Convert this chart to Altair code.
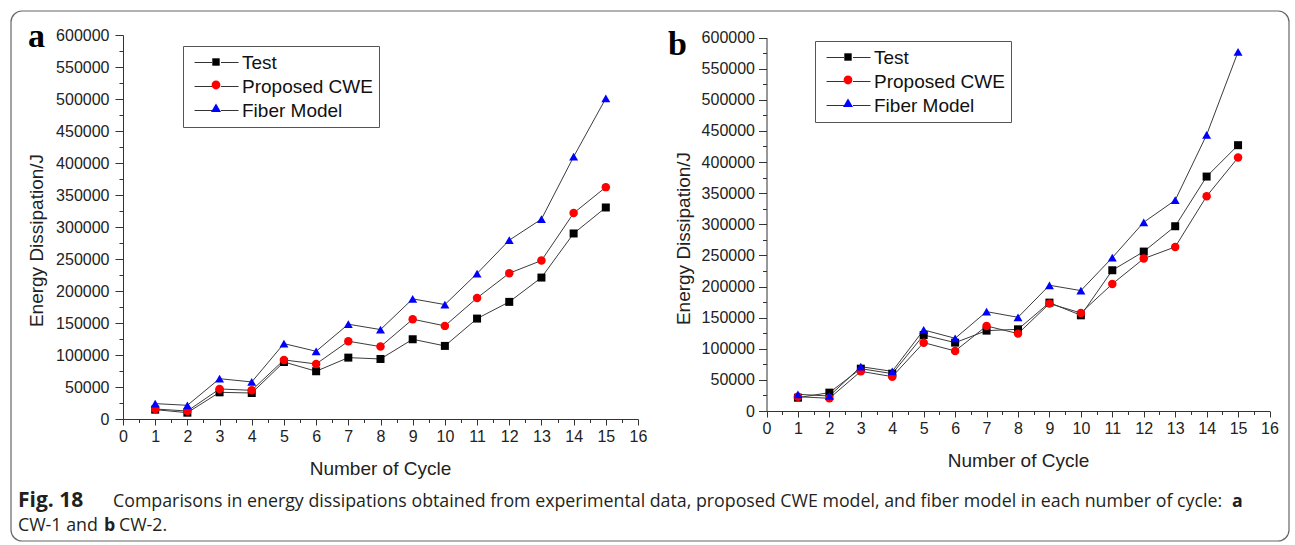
import altair as alt
import pandas as pd

SERIES = ["Test", "Proposed CWE", "Fiber Model"]
COLORS = ["#000000", "#ff0000", "#0000ff"]
CYCLES = list(range(1, 16))

A_TEST = [14600, 9900, 41700, 40600, 89100, 74600, 95900, 93800, 124600, 114200, 156900, 183000, 221000, 289900, 330500]
A_CWE = [15600, 12500, 46900, 44800, 92300, 86000, 121500, 113100, 155900, 145500, 189200, 227800, 247600, 321700, 362300]
A_FIBER = [24000, 21400, 63000, 57900, 117800, 105800, 148100, 139700, 187700, 178800, 227300, 279400, 312300, 409800, 501000]

B_TEST = [21400, 29500, 68000, 60000, 122100, 109800, 129100, 131200, 174100, 153700, 226100, 256100, 296800, 376600, 427000]
B_CWE = [23000, 20400, 63700, 55200, 109800, 96400, 136600, 124300, 172500, 157500, 204100, 244800, 263600, 345000, 407100]
B_FIBER = [26800, 24100, 71200, 63700, 130200, 116800, 159600, 150500, 202000, 193400, 246400, 303200, 338600, 443600, 577000]

X_MAJOR = list(range(0, 17))
X_MINOR = [i + 0.5 for i in range(16)]
Y_MAJOR = list(range(0, 600001, 50000))
Y_MINOR = list(range(25000, 600000, 50000))

CAPTION_1 = "Comparisons in energy dissipations obtained from experimental data, proposed CWE model, and fiber model in each number of cycle:"

FONT = "Liberation Sans"
W, H = 1295, 545

LINE_PATH = "M-2.2,0H-0.45M0.45,0H2.2"
MARK_PATHS = [
    "M-0.37,-0.37H0.37V0.37H-0.37Z",
    "M-0.44,0A0.44,0.44,0,1,1,0.44,0A0.44,0.44,0,1,1,-0.44,0Z",
    "M0,-0.45L0.5,0.4H-0.5Z",
]


def make_df(test, cwe, fiber):
    rows = []
    for name, vals in zip(SERIES, [test, cwe, fiber]):
        for c, v in zip(CYCLES, vals):
            rows.append({"cycle": c, "value": v, "series": name})
    return pd.DataFrame(rows)


def panel(df, xr, yr, x_off, y_off, ytitle_x, ytitle_y, xtitle_x, xtitle_y,
          ylab_pad, leg_x, leg_y):
    xs = alt.Scale(domain=[0, 16], range=xr, nice=False, zero=False)
    ys = alt.Scale(domain=[0, 600000], range=yr, nice=False)
    base = alt.Chart(df)
    axis_common = dict(domainColor="#333333", tickColor="#333333", labelColor="#222222",
                       labelFont=FONT, labelFontSize=16, grid=False,
                       titleFont=FONT, titleFontSize=19, titleFontWeight="normal",
                       titleColor="#222222", labelOverlap=False)
    lines = base.mark_line(color="#3c3c3c", strokeWidth=1).encode(
        x=alt.X("cycle:Q", scale=xs, axis=alt.Axis(
            orient="bottom", offset=x_off, values=X_MAJOR, tickSize=6, labelPadding=3,
            labelFlush=False, title="Number of Cycle", titleX=xtitle_x, titleY=xtitle_y,
            titleBaseline="middle", titleAlign="center", **axis_common)),
        y=alt.Y("value:Q", scale=ys, axis=alt.Axis(
            orient="left", offset=y_off, values=Y_MAJOR, tickSize=8, labelPadding=ylab_pad,
            format="d", title="Energy Dissipation/J", titleX=ytitle_x, titleY=ytitle_y,
            titleBaseline="middle", titleAlign="center", titleAngle=270, **axis_common)),
        detail="series:N",
    )
    points = base.mark_point(filled=True, opacity=1).encode(
        x=alt.X("cycle:Q", scale=xs, axis=None),
        y=alt.Y("value:Q", scale=ys, axis=None),
        color=alt.Color("series:N", scale=alt.Scale(domain=SERIES, range=COLORS), legend=None),
        shape=alt.Shape("series:N", scale=alt.Scale(domain=SERIES, range=["square", "circle", "triangle-up"]), legend=None),
        size=alt.Size("series:N", scale=alt.Scale(domain=SERIES, range=[64, 80, 112]), legend=None),
    )
    leg_common = dict(orient="none", title=None, symbolSize=400, symbolOffset=17,
                      labelOffset=15, padding=6, labelFont=FONT, labelFontSize=19,
                      rowPadding=3, symbolOpacity=1, legendX=leg_x, legendY=leg_y)
    minor_common = dict(labels=False, domain=False, grid=False, title=None,
                        tickColor="#333333")
    legend_lines = base.mark_point(opacity=0, color="#333333").encode(
        x=alt.X("cycle:Q", scale=xs, axis=alt.Axis(orient="bottom", offset=x_off, values=X_MINOR,
                                                   tickSize=3.5, **minor_common)),
        y=alt.Y("value:Q", scale=ys, axis=alt.Axis(orient="left", offset=y_off, values=Y_MINOR,
                                                   tickSize=4, **minor_common)),
        shape=alt.Shape("series:N", scale=alt.Scale(domain=SERIES, range=[LINE_PATH] * 3),
                        legend=alt.Legend(strokeColor="#555555", fillColor="white",
                                          labelColor="#111111", symbolStrokeColor="#333333",
                                          symbolStrokeWidth=1, symbolFillColor="transparent",
                                          **leg_common)),
    )
    mk_legend = alt.Legend(labelColor="transparent", symbolStrokeWidth=0, **leg_common)
    legend_marks = base.mark_point(filled=True, opacity=0).encode(
        x=alt.X("cycle:Q", scale=xs, axis=None),
        y=alt.Y("value:Q", scale=ys, axis=None),
        color=alt.Color("series:N", scale=alt.Scale(domain=SERIES, range=COLORS), legend=mk_legend),
        shape=alt.Shape("series:N", scale=alt.Scale(domain=SERIES, range=MARK_PATHS), legend=mk_legend),
    )
    return [lines, points, legend_lines, legend_marks]


df_a = make_df(A_TEST, A_CWE, A_FIBER)
df_b = make_df(B_TEST, B_CWE, B_FIBER)

layers_a = panel(df_a, [123, 638], [419, 35], 419 - H, -123, -87, 240, 380, 49, 6, 183, 46)
layers_b = panel(df_b, [766.5, 1269.5], [411, 37.5], 411 - H, -766.5, -83.5, 238, 1018, 49, 4, 815, 41)

one = pd.DataFrame({"k": [0]})
frame = alt.Chart(one).mark_rect(fill="transparent", stroke="#666666", strokeWidth=1.2,
                                 cornerRadius=11).encode(
    x=alt.value(11), x2=alt.value(1289), y=alt.value(11), y2=alt.value(541))


def txt(s, x, y, size, weight="normal", font="Open Sans", color="#231f20"):
    return alt.Chart(pd.DataFrame({"t": [s]})).mark_text(
        align="left", baseline="alphabetic", font=font, fontSize=size,
        fontWeight=weight, color=color).encode(
        x=alt.value(x), y=alt.value(y), text="t:N")


texts = [
    txt("a", 28, 47, 34, "bold", "Liberation Serif", "#000000"),
    txt("b", 668, 55, 34, "bold", "Liberation Serif", "#000000"),
    txt("Fig. 18", 18, 507, 21, "bold"),
    txt(CAPTION_1, 113, 507, 17.8),
    txt("a", 1232, 507, 17.8, "bold"),
    txt("CW-1 and", 18, 531, 17.8),
    txt("b", 104, 531, 17.8, "bold"),
    txt("CW-2.", 119, 531, 17.8),
]

chart = alt.layer(frame, *layers_a, *layers_b, *texts).resolve_scale(
    x="independent", y="independent", color="independent", shape="independent", size="independent"
).resolve_axis(x="independent", y="independent").resolve_legend(
    color="independent", shape="independent", size="independent"
).properties(
    width=W, height=H, autosize=alt.AutoSizeParams(type="none"), padding=0,
    background="white"
).configure_view(stroke="transparent")

chart.save("out.html", embed_options={"renderer": "svg", "actions": False})
